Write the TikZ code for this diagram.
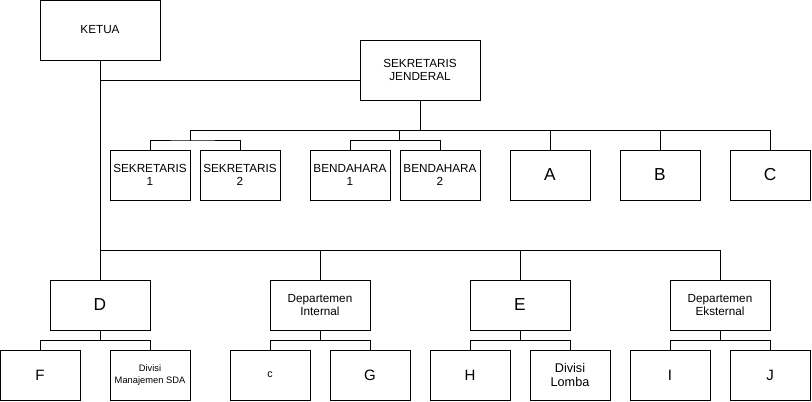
\documentclass[tikz,border=0pt]{standalone}
\usepackage{fontspec}
\setmainfont{Liberation Sans}
\usepackage{xcolor}
\usepackage{tikz}
\usetikzlibrary{calc}
\definecolor{orgline}{HTML}{000000}
\tikzset{
every picture/.style={line cap=rect,line join=miter},
org box/.style={
  draw=orgline,
  line width=0.75pt,
  fill=white,
  align=center,
  inner sep=1pt,
  font=\fontsize{8.8}{10}\selectfont
},
org big/.style={org box, minimum width=90pt, minimum height=45pt},
org mid/.style={org box, minimum width=75pt, minimum height=37.5pt},
org small/.style={org box, minimum width=60pt, minimum height=37.5pt},
big letter/.style={font=\fontsize{13}{15}\selectfont},
small letter/.style={font=\fontsize{11.25}{13}\selectfont},
org link/.style={draw=orgline, line width=0.75pt}
}

\begin{document}
\begin{tikzpicture}[x=0.75pt,y=-0.75pt]
\useasboundingbox (0,0) rectangle (812,401);
% top level
\node[org big] (ketua) at (100,30) {KETUA};
\node[org big] (sekjen) at (420,70) {SEKRETARIS\\JENDERAL};
% staff under the secretary general
\node[org small] (sek1) at (150,175) {SEKRETARIS\\1};
\node[org small] (sek2) at (240,175) {SEKRETARIS\\2};
\node[org small] (bend1) at (350,175) {BENDAHARA\\1};
\node[org small] (bend2) at (440,175) {BENDAHARA\\2};
\node[org small,big letter] (a) at (550,175) {A};
\node[org small,big letter] (b) at (660,175) {B};
\node[org small,big letter] (c) at (770,175) {C};
% departments
\node[org mid,big letter] (d) at (100,305) {D};
\node[org mid] (depint) at (320,305) {Departemen\\Internal};
\node[org mid,big letter] (e) at (520,305) {E};
\node[org mid] (depeks) at (720,305) {Departemen\\Eksternal};
% divisions
\node[org small,small letter] (f) at (40,375) {F};
\node[org small,font=\fontsize{7}{9}\selectfont] (sda) at (150,375) {Divisi\\Manajemen SDA};
\node[org small,font=\fontsize{8}{9}\selectfont] (cc) at (270,375) {c};
\node[org small,small letter] (g) at (370,375) {G};
\node[org small,small letter] (h) at (470,375) {H};
\node[org small,font=\fontsize{9.5}{10.5}\selectfont] (lomba) at (570,375) {Divisi\\Lomba};
\node[org small,small letter] (i) at (670,375) {I};
\node[org small,small letter] (j) at (770,375) {J};
% bus levels
\coordinate (jsek) at (100,80);
\coordinate (bus1) at (420,130);
\coordinate (brk1) at (190,140);
\coordinate (bus2) at (100,250);
\coordinate (brk2) at (100,340);
% connectors
\draw[org link] (ketua.south) -- (d.north);
\draw[org link] (jsek) -- (jsek -| sekjen.west);
\draw[org link] (sekjen.south) -- (bus1);
\draw[org link] (bus1 -| sek1.east) -- (bus1 -| c.north);
\foreach \n in {a,b,c} {
\draw[org link] (bus1 -| \n.north) -- (\n.north);
}
\draw[org link] (bus1 -| sek1.east) -- (brk1 -| sek1.east);
\draw[org link] (sek1.north) |- (brk1) -| (sek2.north);
\draw[org link] (bus1 -| bend2.west) -- (brk1 -| bend2.west);
\draw[org link] (bend1.north) -- (bend1.north |- brk1) -| (bend2.north);
\draw[org link] (bus2) -- (bus2 -| depeks.north);
\foreach \n in {depint,e,depeks} {
\draw[org link] (bus2 -| \n.north) -- (\n.north);
}
\foreach \p/\l/\r in {d/f/sda,depint/cc/g,e/h/lomba,depeks/i/j} {
\draw[org link] (\p.south) -- (brk2 -| \p.south);
\draw[org link] (\l.north) |- (brk2 -| \p.south) -| (\r.north);
}
\end{tikzpicture}
\end{document}
